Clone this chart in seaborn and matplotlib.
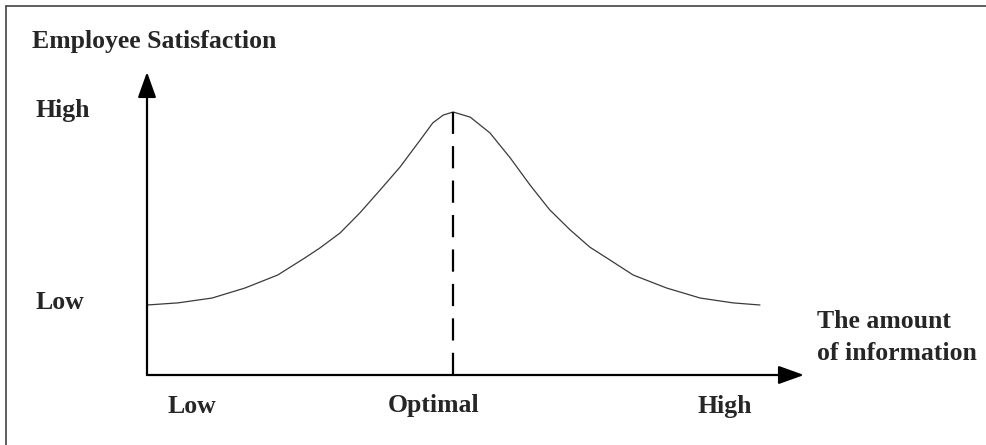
import numpy as np
import pandas as pd
import seaborn as sns
from matplotlib import pyplot as plt
from matplotlib.lines import Line2D

# curve: amount of information (0-10) vs satisfaction (0-10)
info_amount = [0.0, 0.47, 0.99, 1.49, 1.99, 2.40, 2.63, 2.94, 3.24, 3.55, 3.85, 4.16,
               4.35, 4.51, 4.66, 4.92, 5.22, 5.53, 5.83, 6.13, 6.44, 6.74, 7.00,
               7.40, 7.91, 8.42, 8.92, 9.33]
satisfaction = [2.31, 2.38, 2.54, 2.87, 3.30, 3.86, 4.19, 4.69, 5.35, 6.11, 6.86, 7.76,
                8.32, 8.58, 8.68, 8.51, 7.99, 7.16, 6.27, 5.45, 4.79, 4.22, 3.86,
                3.30, 2.87, 2.54, 2.38, 2.31]

y_title = "Employee Satisfaction"
x_title = "The amount\nof information"
y_levels = ["High", "Low"]
x_levels = ["Low", "Optimal", "High"]

W, H = 986, 445

sns.set_style("white")
plt.rcParams["font.family"] = ["Liberation Serif", "DejaVu Serif"]

fig = plt.figure(figsize=(W / 100, H / 100), dpi=100)
# axes box: origin at (147, 375) px, arrow tips at x=804 px and y=72 px
ax = fig.add_axes([147 / W, (H - 375) / H, (804 - 147) / W, (375 - 72) / H])
ax.set_xlim(0, 10)
ax.set_ylim(0, 10)
ax.axis("off")

df = pd.DataFrame({"info": info_amount, "sat": satisfaction})
sns.lineplot(data=df, x="info", y="sat", ax=ax, color="#3a3a3a", lw=0.9,
             estimator=None, sort=False)

# dashed line from peak to the x axis
peak = df.loc[df["sat"].idxmax()]
sns.lineplot(x=[peak["info"], peak["info"]], y=[peak["sat"], 0], ax=ax,
             color="black", lw=1.6, linestyle=(0, (10, 5.5)), estimator=None)

# axes with arrows
arrow = dict(arrowstyle="-|>,head_length=0.78,head_width=0.28", color="black",
             lw=1.6, shrinkA=0, shrinkB=0, mutation_scale=20)
ax.annotate("", xy=(0, 10), xytext=(0, 0), arrowprops=arrow, annotation_clip=False)
ax.annotate("", xy=(10, 0), xytext=(0, 0), arrowprops=arrow, annotation_clip=False)

# frame lines (top and left)
fig.add_artist(Line2D([6 / W, 1], [1 - 6 / H, 1 - 6 / H], color="#444444", lw=1.2))
fig.add_artist(Line2D([6 / W, 6 / W], [0, 1 - 6 / H], color="#444444", lw=1.2))


def label(px, py, s, **kw):
    fig.text(px / W, 1 - py / H, s, fontsize=18.5, fontweight="bold",
             ha="left", va="baseline", **kw)


label(32, 48, y_title)
label(35, 117, y_levels[0])
label(35, 309, y_levels[1])
label(817, 328, x_title.split("\n")[0])
label(817, 360, x_title.split("\n")[1])
label(168, 413, x_levels[0])
label(388, 412, x_levels[1])
label(698, 413, x_levels[2])

fig.savefig("out.png", dpi=100)
